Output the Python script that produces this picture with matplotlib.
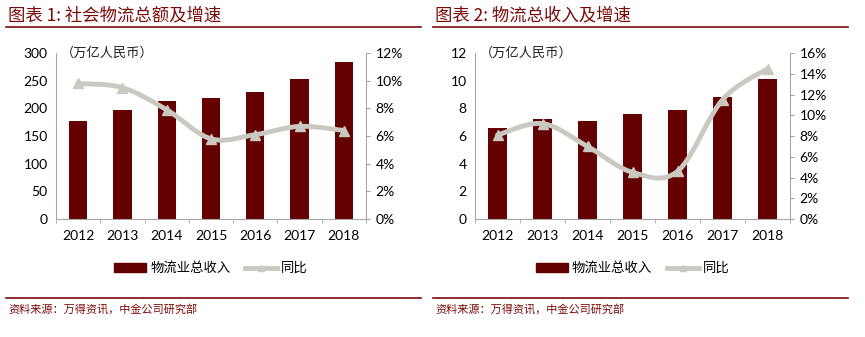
import numpy as np
import matplotlib
matplotlib.use("Agg")
import matplotlib.pyplot as plt
from matplotlib.lines import Line2D
from matplotlib.patches import Patch

plt.rcParams['font.family'] = ['Noto Sans CJK SC', 'DejaVu Sans']

years = ['2012', '2013', '2014', '2015', '2016', '2017', '2018']
total1 = [177.3, 197.8, 213.5, 219.2, 229.7, 252.8, 283.1]
growth1 = [9.8, 9.5, 7.9, 5.8, 6.1, 6.7, 6.4]
rev2 = [6.6, 7.2, 7.1, 7.6, 7.9, 8.8, 10.1]
growth2 = [8.1, 9.2, 7.0, 4.5, 4.6, 11.5, 14.5]

title1 = "图表 1: 社会物流总额及增速"
title2 = "图表 2: 物流总收入及增速"
unit = "（万亿人民币）"
bar_label = "物流业总收入"
line_label = "同比"
source = "资料来源：万得资讯，中金公司研究部"

BAR = '#640000'
LINE = '#C9C9C1'
AX = '#A6A6A6'
RED = '#7A0A0A'
NUM = ['Lato', 'DejaVu Sans']


def smooth(x, y, n=30):
    x = np.asarray(x, float); y = np.asarray(y, float)
    px = np.concatenate([[x[0]], x, [x[-1]]])
    py = np.concatenate([[y[0]], y, [y[-1]]])
    xs, ys = [], []
    for i in range(1, len(px) - 2):
        p0, p1, p2, p3 = [np.array([px[j], py[j]]) for j in (i - 1, i, i + 1, i + 2)]
        c1 = p1 + (p2 - p0) / 6.0
        c2 = p2 - (p3 - p1) / 6.0
        t = np.linspace(0, 1, n)[:, None]
        b = (1 - t) ** 3 * p1 + 3 * (1 - t) ** 2 * t * c1 + 3 * (1 - t) * t ** 2 * c2 + t ** 3 * p2
        xs.append(b[:, 0]); ys.append(b[:, 1])
    return np.concatenate(xs), np.concatenate(ys)


fig = plt.figure(figsize=(8.65, 3.37), dpi=100)


def panel(left, width, vals, growth, ymax, ystep, gmax, gstep, title, tx, lx0, lx1):
    ax = fig.add_axes([left, 0.350, width, 0.4926])
    x = np.arange(len(years))
    ax.bar(x, vals, width=0.41, color=BAR, zorder=2)
    ax.set_xlim(-0.5, len(years) - 0.5)
    ax.set_ylim(0, ymax)
    ax.set_yticks(np.arange(0, ymax + 0.001, ystep))
    ax.set_xticks(x)
    ax.set_xticklabels(years, fontfamily=NUM, fontsize=10)
    ax.set_xticks(np.arange(-0.5, len(years), 1), minor=True)
    ax.tick_params(axis='x', which='major', length=0, pad=8)
    ax.tick_params(axis='x', which='minor', length=3, color=AX, direction='out')
    ax.tick_params(axis='y', length=0, pad=6, labelsize=10)
    for lab in ax.get_yticklabels():
        lab.set_fontfamily(NUM)
    for s in ['top', 'right']:
        ax.spines[s].set_visible(False)
    for s in ['left', 'bottom']:
        ax.spines[s].set_color(AX)
    ax.text(0.015, 1.0, unit, transform=ax.transAxes, fontsize=9.5, ha='left', va='center', color='#222222')

    ax2 = ax.twinx()
    sx, sy = smooth(x, growth)
    ax2.plot(sx, sy, color=LINE, lw=3.5, solid_capstyle='round', zorder=3)
    ax2.plot(x, growth, linestyle='none', marker='^', ms=7, color=LINE, zorder=4)
    ax2.set_ylim(0, gmax)
    ax2.set_yticks(np.arange(0, gmax + 0.001, gstep))
    ax2.set_yticklabels([f"{int(v)}%" for v in np.arange(0, gmax + 0.001, gstep)], fontfamily=NUM, fontsize=10)
    ax2.tick_params(axis='y', length=3, color=AX, pad=4)
    for s in ['top', 'left', 'bottom']:
        ax2.spines[s].set_visible(False)
    ax2.spines['right'].set_color(AX)

    handles = [Patch(facecolor=BAR, edgecolor=BAR),
               Line2D([0], [0], color=LINE, lw=3.5, marker='^', ms=5)]
    ax.legend(handles, [bar_label, line_label], loc='center', bbox_to_anchor=(0.5, -0.295),
              ncol=2, frameon=False, fontsize=9.6, handlelength=2.4, handleheight=0.6,
              columnspacing=1.1, handletextpad=0.3)

    fig.text(tx / 865, 1 - 15 / 337, title, fontsize=12.5, color=RED, style='italic',
             ha='left', va='center')
    fig.add_artist(Line2D([lx0 / 865, lx1 / 865], [1 - 27 / 337] * 2, color=RED, lw=1.2))
    fig.add_artist(Line2D([lx0 / 865, lx1 / 865], [1 - 298 / 337] * 2, color=RED, lw=1.2))
    fig.text((lx0 + 2) / 865, 1 - 309 / 337, source, fontsize=8, color=RED, style='italic',
             ha='left', va='center')


panel(56 / 865, 310 / 865, total1, growth1, 300, 50, 12, 2, title1, 8, 6, 421)
panel(475 / 865, 315 / 865, rev2, growth2, 12, 2, 16, 2, title2, 435, 433, 848)

fig.savefig('out.png', dpi=100)
